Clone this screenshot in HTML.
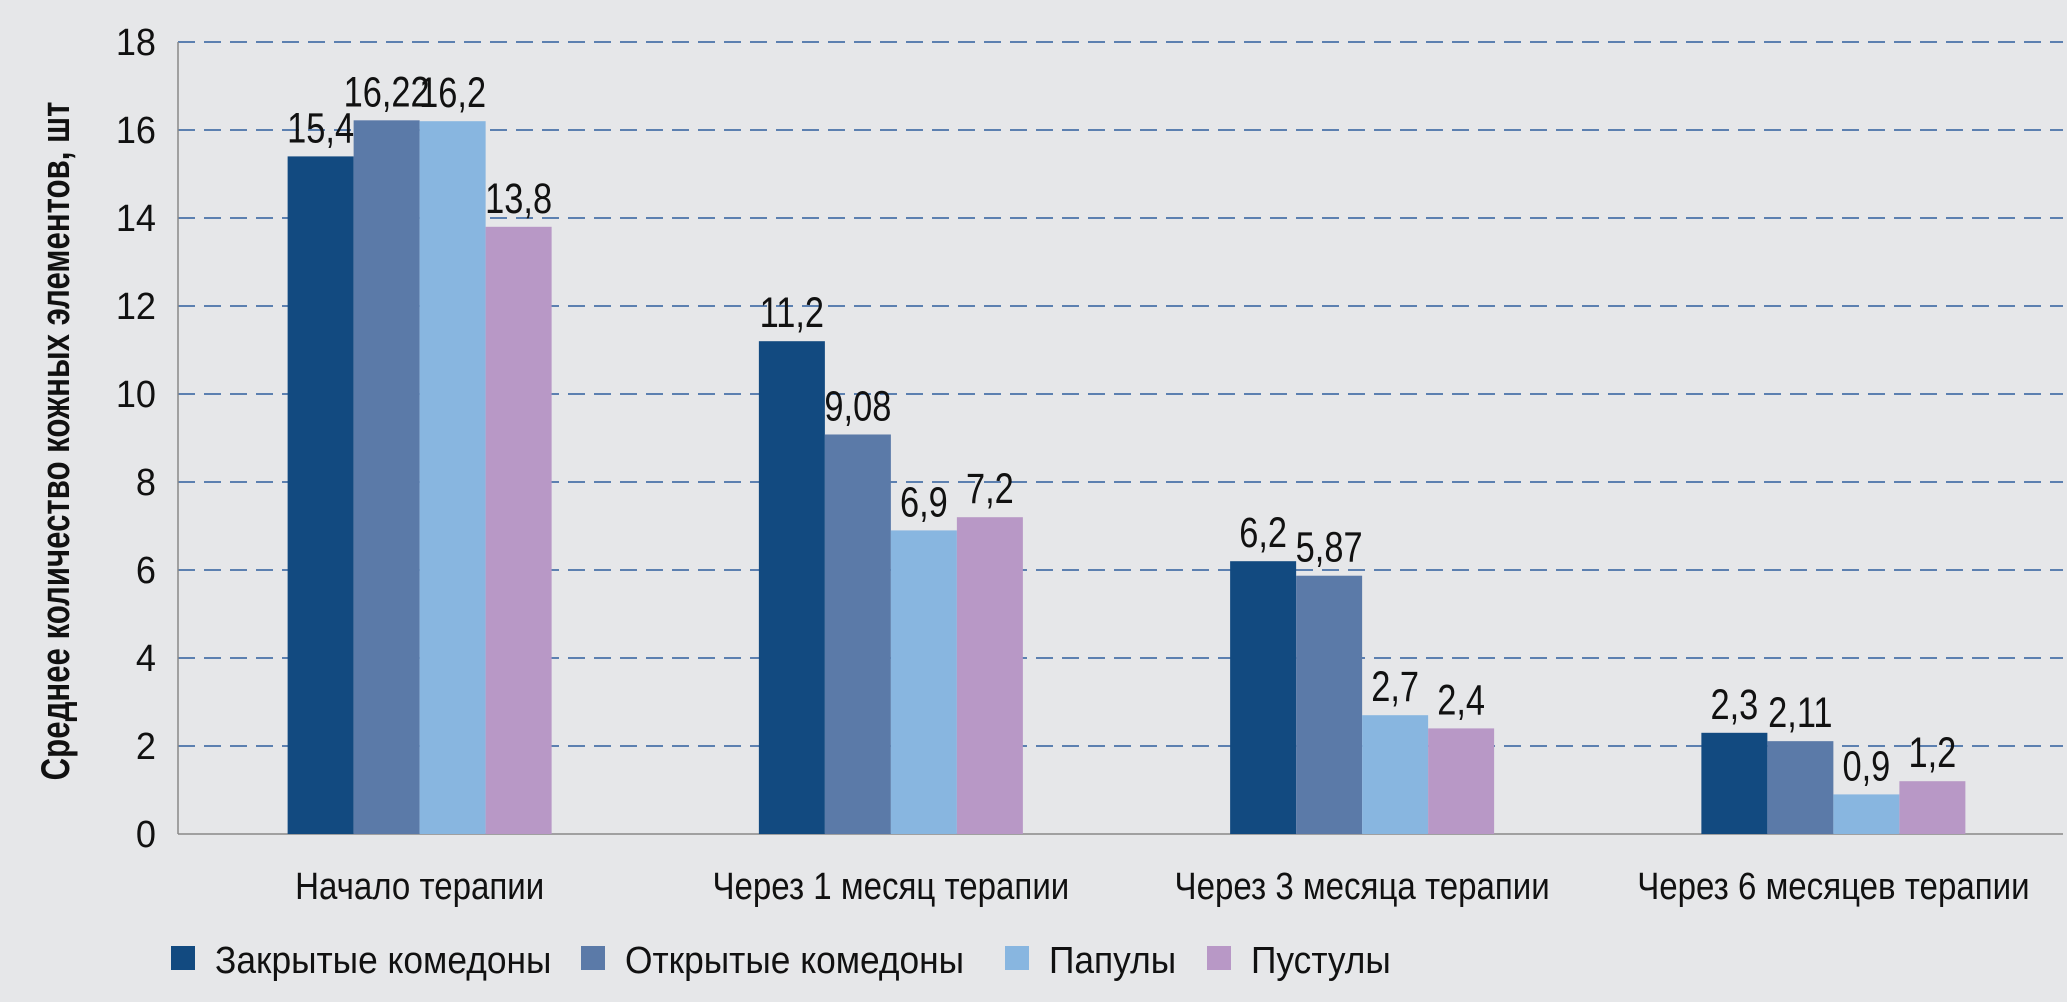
<!DOCTYPE html>
<html><head><meta charset="utf-8"><style>
html,body{margin:0;padding:0;background:#e6e7e9;}
svg{display:block;font-family:"Liberation Sans Narrow","Liberation Sans",sans-serif;}
</style></head><body>
<svg id="chart" width="2067" height="1002" viewBox="0 0 2067 1002" xmlns="http://www.w3.org/2000/svg">
<rect width="2067" height="1002" fill="#e6e7e9"/>
<g id="grid"></g><g id="bars"></g><g id="labels"></g>
<text transform="translate(69,441) rotate(-90) scale(0.78,1)" text-anchor="middle" font-size="40" font-weight="bold" fill="#111">Среднее количество кожных элементов, шт</text>
<g id="legend"></g>
</svg>
<script>
const categories=["Начало терапии","Через 1 месяц терапии","Через 3 месяца терапии","Через 6 месяцев терапии"];
const seriesNames=["Закрытые комедоны","Открытые комедоны","Папулы","Пустулы"];
const closedComedones=[15.4,11.2,6.2,2.3];
const openComedones=[16.22,9.08,5.87,2.11];
const papules=[16.2,6.9,2.7,0.9];
const pustules=[13.8,7.2,2.4,1.2];
const valueLabels=[["15,4","11,2","6,2","2,3"],["16,22","9,08","5,87","2,11"],["16,2","6,9","2,7","0,9"],["13,8","7,2","2,4","1,2"]];
const yTicks=[0,2,4,6,8,10,12,14,16,18];
const series=[closedComedones,openComedones,papules,pustules];
const colors=["#124a80","#5b7aa8","#88b6e0","#b898c6"];
const NS="http://www.w3.org/2000/svg";
const x0=178,x1=2063,yTop=42,yBot=834,yMax=18;
const y=v=>yBot-(v/yMax)*(yBot-yTop);
const catW=(x1-x0)/categories.length,barW=66;
const bx=(c,s)=>x0+c*catW+(catW-4*barW)/2+s*barW+6;
function mk(t,a,p){const e=document.createElementNS(NS,t);for(const k in a)e.setAttribute(k,a[k]);p.appendChild(e);return e;}
function ctext(p,x,yy,size,sx,anchor,str){const t=mk('text',{transform:'translate('+x+','+yy+') scale('+sx+',1)','text-anchor':anchor,'font-size':size,fill:'#111'},p);t.textContent=str;return t;}
const grid=document.getElementById('grid');
yTicks.forEach(t=>{
 if(t>0){const l=mk('line',{x1:x0,x2:x1,y1:y(t),y2:y(t),stroke:'#2f5e9e','stroke-width':1.6,'stroke-dasharray':'17 9'},grid);
 
 }
 const tx=ctext(grid,x0-22,y(t)+13,38,0.95,'end',String(t));
 
 
});
const ax=mk('line',{x1:x0,x2:x0,y1:yTop,y2:yBot,stroke:'#888','stroke-width':1.5},grid);


const xa=mk('line',{x1:x0,x2:x1,y1:yBot,y2:yBot,stroke:'#888','stroke-width':1.5},grid);


const bars=document.getElementById('bars'),labels=document.getElementById('labels');
categories.forEach((c,ci)=>{
 series.forEach((s,si)=>{
  const r=mk('rect',{x:bx(ci,si),y:y(s[ci]),width:barW,height:yBot-y(s[ci]),fill:colors[si]},bars);
  
  
  const t=ctext(labels,bx(ci,si)+barW/2,y(s[ci])-14,43,0.8,'middle',valueLabels[si][ci]);
  
  
 });
 const ct=ctext(labels,x0+ci*catW+catW/2+6,899,38,0.87,'middle',c);
 
 
});
const legend=document.getElementById('legend');
const lx=[171,581,1005,1207];
seriesNames.forEach((n,i)=>{
 const sq=mk('rect',{x:lx[i],y:946,width:24,height:24,fill:colors[i]},legend);
 
 
 const t=ctext(legend,lx[i]+44,973,38,0.93,'start',n);
 
 
});
</script>
</body></html>
